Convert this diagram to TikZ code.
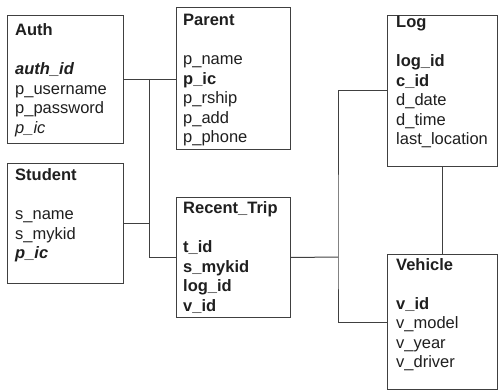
\documentclass[tikz,border=0pt]{standalone}
\usepackage{fontspec}
\setmainfont{Liberation Sans}
\begin{document}
\begin{tikzpicture}[x=1pt,y=-1pt,
  table/.style={draw=black!75, line width=1pt, fill=white, anchor=north west, inner sep=0pt},
  fields/.style={anchor=base west, inner sep=0pt, text=black!88,
    font=\fontsize{16.5}{19.5}\selectfont},
  link/.style={draw=black!75, line width=1pt}]
\useasboundingbox (0,0) rectangle (498,390);

% entity boxes
\node[table, minimum width=116pt, minimum height=128pt] (auth) at (7,15) {};
\node[table, minimum width=114pt, minimum height=142pt] (parent) at (176,7) {};
\node[table, minimum width=116pt, minimum height=120pt] (student) at (7,163) {};
\node[table, minimum width=114pt, minimum height=120pt] (trip) at (176,197) {};
\node[table, minimum width=110pt, minimum height=151pt] (log) at (387,15) {};
\node[table, minimum width=110pt, minimum height=135pt] (vehicle) at (387,254) {};

% field lists
\node[fields] (authtext) at (15,36) {\begin{tabular}[t]{@{}l@{}}
  \textbf{Auth}\\ \\ \textbf{\textit{auth\_id}}\\ p\_username\\ p\_password\\ \textit{p\_ic}
\end{tabular}};
\node[fields] (parenttext) at (183,26) {\begin{tabular}[t]{@{}l@{}}
  \textbf{Parent}\\ \\ p\_name\\ \textbf{p\_ic}\\ p\_rship\\ p\_add\\ p\_phone
\end{tabular}};
\node[fields] (studenttext) at (15,181) {\begin{tabular}[t]{@{}l@{}}
  \textbf{Student}\\ \\ s\_name\\ s\_mykid\\ \textbf{\textit{p\_ic}}
\end{tabular}};
\node[fields] (triptext) at (183,214) {\begin{tabular}[t]{@{}l@{}}
  \textbf{Recent\_Trip}\\ \\ \textbf{t\_id}\\ \textbf{s\_mykid}\\ \textbf{log\_id}\\ \textbf{v\_id}
\end{tabular}};
\node[fields] (logtext) at (396,28) {\begin{tabular}[t]{@{}l@{}}
  \textbf{Log}\\ \\ \textbf{log\_id}\\ \textbf{c\_id}\\ d\_date\\ d\_time\\ last\_location
\end{tabular}};
\node[fields] (vehicletext) at (396,270) {\begin{tabular}[t]{@{}l@{}}
  \textbf{Vehicle}\\ \\ \textbf{v\_id}\\ v\_model\\ v\_year\\ v\_driver
\end{tabular}};

% relationship lines
\coordinate (jl) at (149,79);
\coordinate (jr) at (338,257);
\draw[link] (auth.east) -- (parent.west |- auth.east);
\draw[link] (jl) |- (trip.west);
\draw[link] (student.east) -- (jl |- student.east);
\draw[link] (trip.east) -- (jr);
\draw[link] (log.west) -| (jr) |- (vehicle.west);
\draw[link] (log.south) -- (log.south |- vehicle.north);
\end{tikzpicture}
\end{document}
